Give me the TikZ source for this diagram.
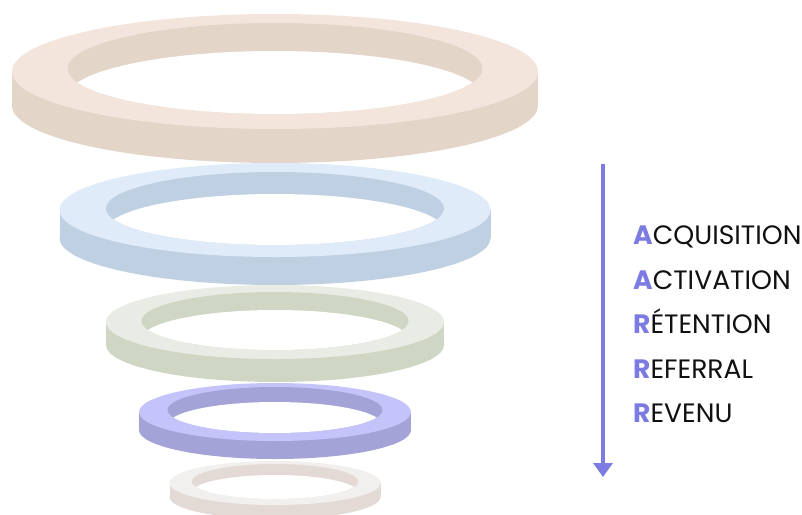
\documentclass[tikz,border=0pt]{standalone}
\usepackage{fontspec}
\setmainfont{Poppins}
\usetikzlibrary{arrows.meta}

% ring palette: top face / side wall
\definecolor{ringAtop}{HTML}{F3E5DC}
\definecolor{ringAside}{HTML}{E4D5C9}
\definecolor{ringBtop}{HTML}{DFEBF8}
\definecolor{ringBside}{HTML}{BFD0E2}
\definecolor{ringCtop}{HTML}{E9ECE4}
\definecolor{ringCside}{HTML}{D0D6C4}
\definecolor{ringDtop}{HTML}{C4C4FA}
\definecolor{ringDside}{HTML}{A3A3D8}
\definecolor{ringEtop}{HTML}{F2F0EE}
\definecolor{ringEside}{HTML}{E4DAD5}
\definecolor{accent}{HTML}{7B7BE2}
\definecolor{labeltext}{HTML}{111111}

% #1 colour key, #2 top centre y, #3 outer x radius, #4 outer y radius,
% #5 wall height, #6 hole centre y, #7 hole x radius, #8 hole y radius,
% #9 drop of the inner wall
\newcommand\drawring[9]{%
  \fill[ring#1side] ({275-#3},#2) rectangle ({275+#3},{#2+#5});
  \fill[ring#1side] (275,{#2+#5}) ellipse [x radius=#3pt, y radius=#4pt];
  \fill[ring#1top] (275,#2) ellipse [x radius=#3pt, y radius=#4pt];
  \fill[ring#1side] (275,#6) ellipse [x radius=#7pt, y radius=#8pt];
  \begin{scope}
    \clip (275,#6) ellipse [x radius=#7pt, y radius=#8pt];
    \fill[white] (275,{#6+#9}) ellipse [x radius=#7pt, y radius=#8pt];
  \end{scope}
}

\tikzset{
  stagelabel/.style={anchor=base west, inner sep=0pt, text=labeltext,
    font=\fontsize{26.6}{30}\selectfont},
  flow/.style={draw=accent, line width=4.5pt,
    -{Triangle[width=19pt,length=14pt]}},
}
\newcommand\initial[1]{\textcolor{accent}{\bfseries #1}}

\begin{document}
\begin{tikzpicture}[x=1pt, y=-1pt]
  \useasboundingbox (0,0) rectangle (802,514);
  \fill[white] (0,0) rectangle (802,514);
  \clip (0,0) rectangle (802,514);

  % stacked rings, widest on top
  \drawring{A}{71.5}{263}{57.5}{34}{68.5}{207.5}{45.5}{28}
  \drawring{B}{210}{215.5}{47}{28}{208.5}{169}{36.5}{22}
  \drawring{C}{322}{169}{37}{23}{321}{133.5}{29}{18}
  \drawring{D}{412}{136}{29}{18}{410}{107.5}{23}{15}
  \drawring{E}{483}{105.5}{22}{14}{481.5}{83}{17.5}{11}

  % downward arrow
  \coordinate (arrowtop) at (603,164);
  \coordinate (arrowtip) at (603,477);
  \draw[flow] (arrowtop) -- (arrowtip);

  % AARRR stages
  \node[stagelabel] (acquisition) at (633,244) {\initial{A}CQUISITION};
  \node[stagelabel] (activation)  at (633,289) {\initial{A}CTIVATION};
  \node[stagelabel] (retention)   at (633,333) {\initial{R}ÉTENTION};
  \node[stagelabel] (referral)    at (633,378) {\initial{R}EFERRAL};
  \node[stagelabel] (revenu)      at (633,422) {\initial{R}EVENU};
\end{tikzpicture}
\end{document}
